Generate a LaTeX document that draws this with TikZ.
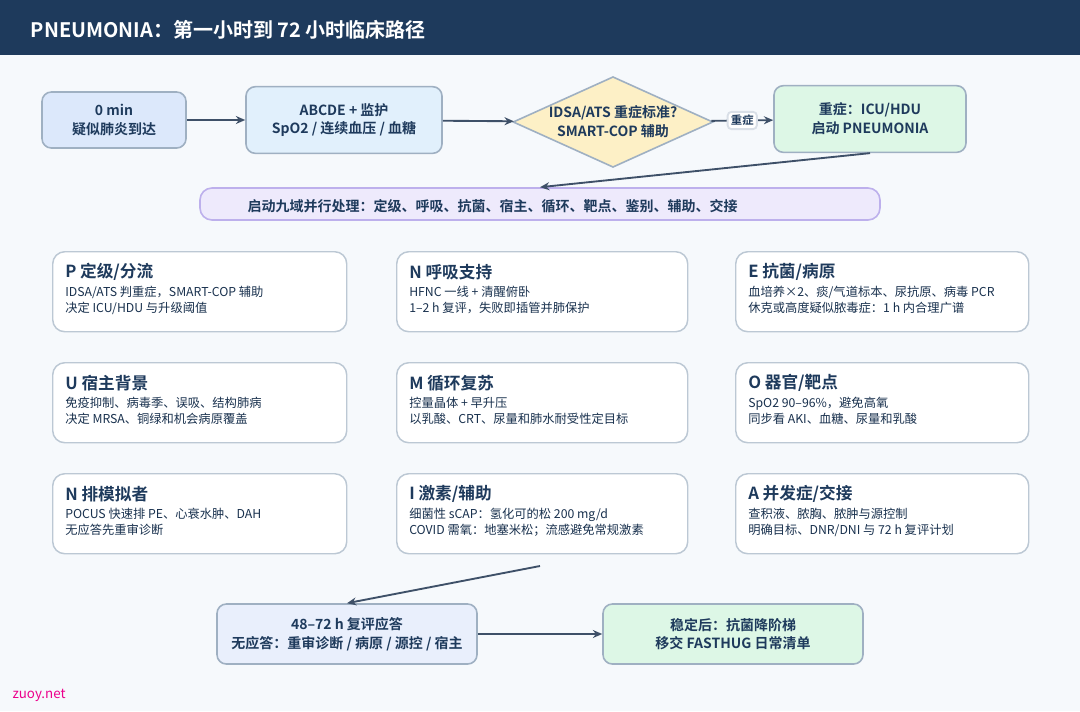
\documentclass[tikz,border=0pt]{standalone}
\usepackage{fontspec}
\setmainfont{Noto Sans CJK SC}[BoldFont={* Bold}]
\usetikzlibrary{shapes.geometric,arrows.meta}
\definecolor{navy}{HTML}{1E3A5C}
\definecolor{edge}{HTML}{9FB0C2}
\definecolor{arr}{HTML}{3E5068}
\definecolor{bg}{HTML}{F6F9FC}
\definecolor{cA}{HTML}{DCE8FB}
\definecolor{cB}{HTML}{E1F0FC}
\definecolor{cC}{HTML}{FDF0C6}
\definecolor{cG}{HTML}{DDF7E6}
\definecolor{cV}{HTML}{EEEAFC}
\definecolor{cVd}{HTML}{BDB0EC}
\definecolor{cF}{HTML}{E9EFFC}
\begin{document}
\begin{tikzpicture}[x=0.75pt,y=-0.75pt,
  flow/.style={draw=edge,line width=1.2pt,rounded corners=7pt,align=center,font=\bfseries\fontsize{10.5}{14}\selectfont,text=navy,inner sep=0pt},
  card/.style={draw=edge!70,fill=white,line width=1.1pt,rounded corners=9pt,minimum width=#1,minimum height=60pt,inner sep=0pt},
  ttl/.style={anchor=west,font=\bfseries\fontsize{12.5}{14}\selectfont,text=navy,inner sep=0pt},
  body/.style={anchor=north west,align=left,font=\fontsize{9.2}{12}\selectfont,text=navy!85!black,inner sep=0pt},
  con/.style={draw=arr,line width=1.4pt,-{Stealth[length=7pt,width=6pt]}}]
\fill[bg] (0,0) rectangle (1080,711);
\useasboundingbox (0,0) rectangle (1080,711);
\fill[navy] (0,0) rectangle (1080,55);
\node[anchor=west,text=white,font=\bfseries\fontsize{15}{18}\selectfont] (title) at (26,30) {PNEUMONIA：第一小时到 72 小时临床路径};
% top flow
\node[flow,fill=cA,minimum width=108pt,minimum height=42pt] (a) at (114,120) {0 min\\疑似肺炎到达};
\node[flow,fill=cB,minimum width=147pt,minimum height=50pt] (b) at (344,120) {ABCDE + 监护\\SpO2 / 连续血压 / 血糖};
\node[diamond,draw=edge,line width=1.2pt,fill=cC,minimum width=150pt,minimum height=68pt,aspect=2.2,inner sep=0pt,align=center,font=\bfseries\fontsize{10.5}{14}\selectfont,text=navy] (c) at (613,122) {IDSA/ATS 重症标准?\\SMART-COP 辅助};
\node[flow,fill=cG,minimum width=144pt,minimum height=50pt] (d) at (870,119) {重症：ICU/HDU\\启动 PNEUMONIA};
\node[flow,fill=cV,draw=cVd,minimum width=510pt,minimum height=24pt,rounded corners=9pt] (e) at (540,204) {};
\node[anchor=west,text=navy,font=\bfseries\fontsize{10.5}{13}\selectfont] (et) at (243,206) {启动九域并行处理：定级、呼吸、抗菌、宿主、循环、靶点、鉴别、辅助、交接};
\draw[con] (a) -- (b);
\draw[con] (b) -- (c);
\draw[con] (c) -- node[fill=white,rounded corners=3pt,draw=edge!40,font=\bfseries\fontsize{8.5}{10}\selectfont,text=navy,inner sep=2.5pt] (lab) {重症} (d);
\draw[con] (d.south) -- (e.north);
% cards
\foreach \x/\y/\w/\t/\la/\lb [count=\i] in {
52/251/294/{P 定级/分流}/{IDSA/ATS 判重症，SMART-COP 辅助}/{决定 ICU/HDU 与升级阈值},
396/251/291/{N 呼吸支持}/{HFNC 一线 + 清醒俯卧}/{1–2 h 复评，失败即插管并肺保护},
735/251/293/{E 抗菌/病原}/{血培养×2、痰/气道标本、尿抗原、病毒 PCR}/{休克或高度疑似脓毒症：1 h 内合理广谱},
52/362/294/{U 宿主背景}/{免疫抑制、病毒季、误吸、结构肺病}/{决定 MRSA、铜绿和机会病原覆盖},
396/362/291/{M 循环复苏}/{控量晶体 + 早升压}/{以乳酸、CRT、尿量和肺水耐受性定目标},
735/362/293/{O 器官/靶点}/{SpO2 90–96\%，避免高氧}/{同步看 AKI、血糖、尿量和乳酸},
52/473/294/{N 排模拟者}/{POCUS 快速排 PE、心衰水肿、DAH}/{无应答先重审诊断},
396/473/291/{I 激素/辅助}/{细菌性 sCAP：氢化可的松 200 mg/d}/{COVID 需氧：地塞米松；流感避免常规激素},
735/473/293/{A 并发症/交接}/{查积液、脓胸、脓肿与源控制}/{明确目标、DNR/DNI 与 72 h 复评计划}}{
  \node[card=\w*0.75pt,anchor=north west] (k\i) at (\x,\y) {};
  \node[ttl] (kt\i) at (\x+13,\y+21) {\t};
  \node[body] (kb\i) at (\x+13,\y+35) {\la\\\lb};
}
% bottom
\coordinate (m) at (540,566);
\node[flow,fill=cF,minimum width=195pt,minimum height=45pt] (f) at (347,634) {48–72 h 复评应答\\无应答：重审诊断 / 病原 / 源控 / 宿主};
\node[flow,fill=cG,minimum width=195pt,minimum height=45pt] (g) at (733,634) {稳定后：抗菌降阶梯\\移交 FASTHUG 日常清单};
\draw[con] (m) -- (f.north);
\draw[con] (f) -- (g);
\node[anchor=west,text=magenta,font=\fontsize{10}{12}\selectfont] (wm) at (8,695) {zuoy.net};
\end{tikzpicture}
\end{document}
